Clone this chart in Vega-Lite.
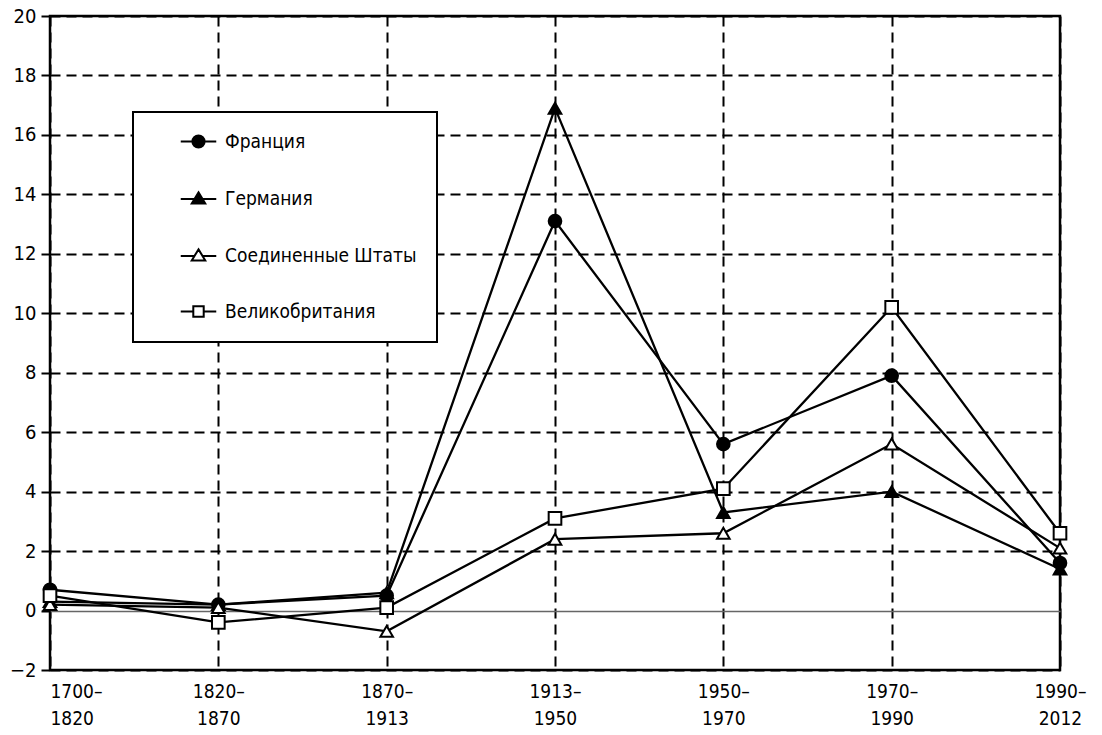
{
  "$schema": "https://vega.github.io/schema/vega-lite/v6.json",
  "width": 1010,
  "height": 654,
  "autosize": "none",
  "padding": {"left": 50, "top": 16, "right": 42, "bottom": 65},
  "background": "white",
  "config": {
    "view": {"stroke": "black", "strokeWidth": 2.5},
    "font": "DejaVu Sans Condensed",
    "legend": {
      "title": null,
      "orient": "none",
      "legendX": 83,
      "legendY": 96,
      "padding": 20,
      "strokeColor": "black",
      "strokeWidth": 2,
      "fillColor": "white",
      "labelFontSize": 19,
      "labelColor": "black",
      "labelLimit": 400,
      "symbolSize": 150,
      "symbolOffset": 36,
      "labelOffset": 17,
      "rowPadding": 36,
      "symbolStrokeWidth": 2,
      "symbolStrokeColor": "black"
    }
  },
  "data": {
    "values": [
      {"period": "1700–1820", "country": "Франция", "value": 0.7},
      {"period": "1820–1870", "country": "Франция", "value": 0.2},
      {"period": "1870–1913", "country": "Франция", "value": 0.5},
      {"period": "1913–1950", "country": "Франция", "value": 13.1},
      {"period": "1950–1970", "country": "Франция", "value": 5.6},
      {"period": "1970–1990", "country": "Франция", "value": 7.9},
      {"period": "1990–2012", "country": "Франция", "value": 1.6},
      {"period": "1700–1820", "country": "Германия", "value": 0.3},
      {"period": "1820–1870", "country": "Германия", "value": 0.2},
      {"period": "1870–1913", "country": "Германия", "value": 0.6},
      {"period": "1913–1950", "country": "Германия", "value": 16.9},
      {"period": "1950–1970", "country": "Германия", "value": 3.3},
      {"period": "1970–1990", "country": "Германия", "value": 4.0},
      {"period": "1990–2012", "country": "Германия", "value": 1.4},
      {"period": "1700–1820", "country": "Соединенные Штаты", "value": 0.2},
      {"period": "1820–1870", "country": "Соединенные Штаты", "value": 0.1},
      {"period": "1870–1913", "country": "Соединенные Штаты", "value": -0.7},
      {"period": "1913–1950", "country": "Соединенные Штаты", "value": 2.4},
      {"period": "1950–1970", "country": "Соединенные Штаты", "value": 2.6},
      {"period": "1970–1990", "country": "Соединенные Штаты", "value": 5.6},
      {"period": "1990–2012", "country": "Соединенные Штаты", "value": 2.1},
      {"period": "1700–1820", "country": "Великобритания", "value": 0.5},
      {"period": "1820–1870", "country": "Великобритания", "value": -0.4},
      {"period": "1870–1913", "country": "Великобритания", "value": 0.1},
      {"period": "1913–1950", "country": "Великобритания", "value": 3.1},
      {"period": "1950–1970", "country": "Великобритания", "value": 4.1},
      {"period": "1970–1990", "country": "Великобритания", "value": 10.2},
      {"period": "1990–2012", "country": "Великобритания", "value": 2.6}
    ]
  },
  "encoding": {
    "x": {
      "field": "period",
      "type": "ordinal",
      "sort": ["1700–1820", "1820–1870", "1870–1913", "1913–1950", "1950–1970", "1970–1990", "1990–2012"],
      "scale": {"type": "point", "padding": 0},
      "axis": {
        "title": null,
        "labelAngle": 0,
        "ticks": false,
        "domain": false,
        "grid": true,
        "gridDash": [10, 6],
        "gridColor": "black",
        "gridWidth": 2,
        "labelFontSize": 19,
        "labelColor": "black",
        "labelPadding": 12,
        "labelLineHeight": 27,
        "labelExpr": "[substring(datum.label, 0, 5), substring(datum.label, 5)]",
        "labelAlign": {"condition": {"test": "datum.index === 0", "value": "left"}, "value": "center"}
      }
    },
    "y": {
      "field": "value",
      "type": "quantitative",
      "scale": {"domain": [-2, 20], "nice": false, "zero": false},
      "axis": {
        "title": null,
        "values": [-2, 0, 2, 4, 6, 8, 10, 12, 14, 16, 18, 20],
        "grid": true,
        "gridDash": {"condition": {"test": "datum.value === 0", "value": []}, "value": [10, 6]},
        "gridColor": {"condition": {"test": "datum.value === 0", "value": "#666666"}, "value": "black"},
        "gridWidth": {"condition": {"test": "datum.value === 0", "value": 1.5}, "value": 2},
        "domain": false,
        "tickSize": 9,
        "tickColor": "black",
        "tickWidth": 2,
        "labelFontSize": 20,
        "labelColor": "black",
        "labelPadding": 5
      }
    }
  },
  "layer": [
    {
      "mark": {"type": "line", "color": "black", "strokeWidth": 2.3},
      "encoding": {"detail": {"field": "country"}}
    },
    {
      "transform": [{"filter": "datum.country === 'Франция'"}],
      "mark": {"type": "point", "shape": "circle", "filled": true, "size": 160, "fill": "black", "stroke": "black", "strokeWidth": 2, "opacity": 1}
    },
    {
      "transform": [{"filter": "datum.country === 'Германия'"}],
      "mark": {"type": "point", "shape": "triangle-up", "filled": true, "size": 160, "fill": "black", "stroke": "black", "strokeWidth": 2, "opacity": 1}
    },
    {
      "transform": [{"filter": "datum.country === 'Соединенные Штаты'"}],
      "mark": {"type": "point", "shape": "triangle-up", "filled": true, "size": 160, "fill": "white", "stroke": "black", "strokeWidth": 2, "opacity": 1}
    },
    {
      "transform": [{"filter": "datum.country === 'Великобритания'"}],
      "mark": {"type": "point", "shape": "square", "filled": true, "size": 160, "fill": "white", "stroke": "black", "strokeWidth": 2, "opacity": 1}
    },
    {
      "transform": [{"filter": "datum.value > 100"}],
      "mark": {"type": "point", "filled": true, "size": 150, "strokeWidth": 2, "opacity": 1},
      "encoding": {
        "shape": {
          "field": "country",
          "type": "nominal",
          "scale": {
            "domain": ["Франция", "Германия", "Соединенные Штаты", "Великобритания"],
            "range": [
              "M-2.9,0H2.9M-1,0A1,1,0,1,0,1,0A1,1,0,1,0,-1,0Z",
              "M-2.9,0.1H2.9M0,-1L1.1,0.8L-1.1,0.8Z",
              "M-2.9,0.1H-0.67M0.67,0.1H2.9M0,-1L1.1,0.8L-1.1,0.8Z",
              "M-2.9,0H-0.85M0.85,0H2.9M-0.85,-0.85H0.85V0.85H-0.85Z"
            ]
          }
        },
        "fill": {
          "field": "country",
          "type": "nominal",
          "scale": {
            "domain": ["Франция", "Германия", "Соединенные Штаты", "Великобритания"],
            "range": ["black", "black", "white", "white"]
          }
        },
        "stroke": {
          "field": "country",
          "type": "nominal",
          "scale": {
            "domain": ["Франция", "Германия", "Соединенные Штаты", "Великобритания"],
            "range": ["black", "black", "black", "black"]
          }
        }
      }
    }
  ]
}
